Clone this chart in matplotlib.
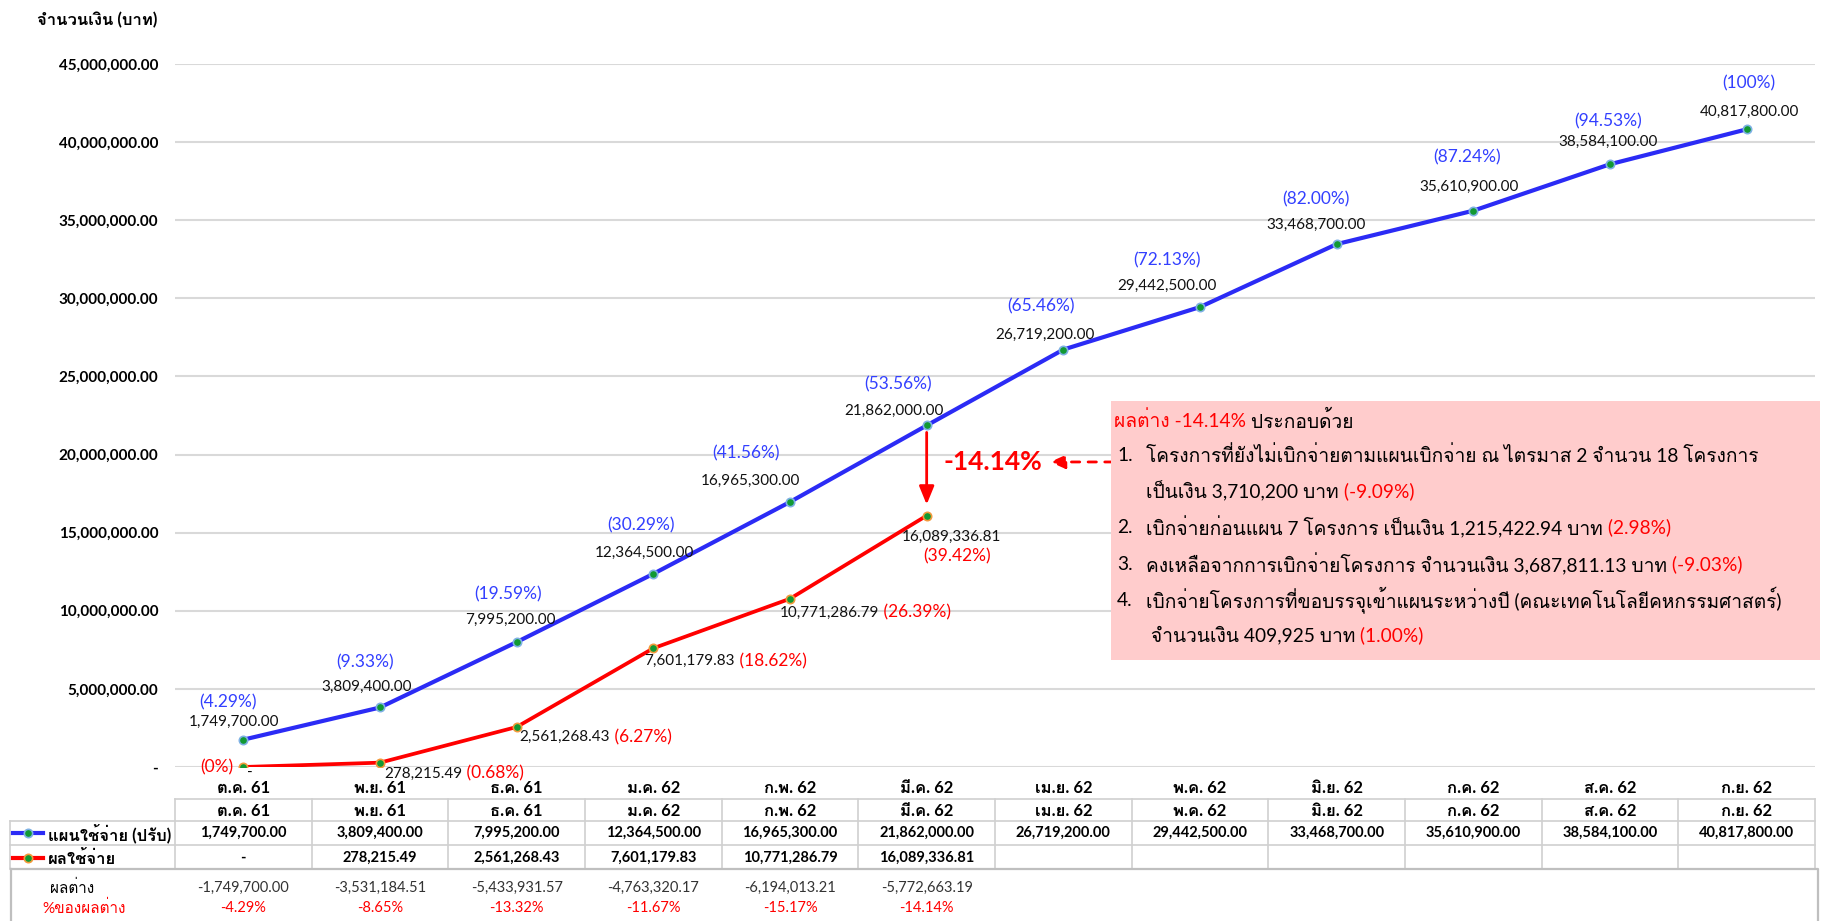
import numpy as np
import matplotlib
matplotlib.use('Agg')
import matplotlib.pyplot as plt
from matplotlib import font_manager
from matplotlib.ft2font import FT2Font
from matplotlib.patches import Rectangle
from matplotlib.text import Annotation


def thai_fonts():
    # families that actually carry Thai glyphs
    names = []
    for f in font_manager.fontManager.ttflist:
        try:
            cmap = FT2Font(f.fname).get_charmap()
        except Exception:
            continue
        if 0x0E08 in cmap and f.name not in names:
            names.append(f.name)
    return names


found = thai_fonts()
thai = 'DejaVu Sans'
for name in ['Loma', 'Waree', 'Garuda', 'IBM Plex Sans Thai Looped'] + found:
    if name in found:
        thai = name
        break
plt.rcParams['font.family'] = ['Lato', thai, 'DejaVu Sans']

# Data
months = ['ต.ค. 61', 'พ.ย. 61', 'ธ.ค. 61', 'ม.ค. 62', 'ก.พ. 62', 'มี.ค. 62',
          'เม.ย. 62', 'พ.ค. 62', 'มิ.ย. 62', 'ก.ค. 62', 'ส.ค. 62', 'ก.ย. 62']
plan = [1749700.00, 3809400.00, 7995200.00, 12364500.00, 16965300.00, 21862000.00,
        26719200.00, 29442500.00, 33468700.00, 35610900.00, 38584100.00, 40817800.00]
plan_pct = ['4.29%', '9.33%', '19.59%', '30.29%', '41.56%', '53.56%',
            '65.46%', '72.13%', '82.00%', '87.24%', '94.53%', '100%']
actual = [0, 278215.49, 2561268.43, 7601179.83, 10771286.79, 16089336.81]
actual_pct = ['0%', '0.68%', '6.27%', '18.62%', '26.39%', '39.42%']
diff = [-1749700.00, -3531184.51, -5433931.57, -4763320.17, -6194013.21, -5772663.19]
diff_pct = ['-4.29%', '-8.65%', '-13.32%', '-11.67%', '-15.17%', '-14.14%']
yticks = [0, 5e6, 10e6, 15e6, 20e6, 25e6, 30e6, 35e6, 40e6, 45e6]

# label offsets in pixels (dx, dy)
plan_val_off = [(-9, 18), (-13, 21), (-6, 22), (-9, 21), (-40, 21), (-33, 15),
                (-18, 15), (-33, 21), (-21, 19), (-4, 24), (-2, 22), (3, 17)]
plan_pct_off = [(-15, 37), (-15, 45), (-9, 48), (-12, 48), (-44, 49), (-29, 41),
                (-22, 43), (-33, 47), (-21, 45), (-6, 53), (-2, 43), (2, 46)]
act_val_off = [(7, -6), (4, -11), (3, -10), (-9, -13), (-10, -14), (25, -21)]

BLUE = '#2B2BF5'
BLUE_TXT = '#3340FF'
RED = '#FF0000'
GREEN = '#119933'
GRID = '#D9D9D9'

W, H = 1824, 921
fig = plt.figure(figsize=(W / 100, H / 100), dpi=100)
x0, x1, ytop, ybot = 175, 1815, 64, 767
ax = fig.add_axes([x0 / W, 1 - ybot / H, (x1 - x0) / W, (ybot - ytop) / H])

x = np.arange(len(months))
xa = np.arange(len(actual))

ax.plot(x, plan, color=BLUE, lw=3, marker='o', ms=6, mfc=GREEN, mec='#7FB2E5', mew=1.2,
        solid_capstyle='round', zorder=3)
ax.plot(xa, actual, color=RED, lw=2.7, marker='o', ms=6, mfc=GREEN, mec='#F39A3C', mew=1.2,
        solid_capstyle='round', zorder=3)

ax.set_xlim(-0.5, len(months) - 0.5)
ax.set_ylim(0, 45e6)
ax.set_yticks(yticks)
ax.set_yticklabels(['-' if v == 0 else f'{v:,.2f}' for v in yticks],
                   fontsize=11, fontweight='bold')
ax.set_xticks(x)
ax.set_xticklabels(months, fontsize=12, fontweight='bold')
ax.tick_params(axis='both', length=0)
ax.tick_params(axis='y', pad=12)
ax.tick_params(axis='x', pad=9)
ax.grid(axis='y', color=GRID, lw=1.5)
ax.set_axisbelow(True)
for s in ax.spines.values():
    s.set_visible(False)

fig.text(157 / W, 1 - 20 / H, 'จำนวนเงิน (บาท)', ha='right', va='center',
         fontsize=12, fontweight='bold')

# plan labels
for i, v in enumerate(plan):
    ax.annotate(f'{v:,.2f}', (i, v), xytext=plan_val_off[i], textcoords='offset pixels',
                ha='center', va='center', fontsize=11, color='#111111')
    ax.annotate(f'({plan_pct[i]})', (i, v), xytext=plan_pct_off[i], textcoords='offset pixels',
                ha='center', va='center', fontsize=12.5, color=BLUE_TXT)

# actual labels
for i, v in enumerate(actual):
    if v == 0:
        ax.annotate('-', (i, v), xytext=act_val_off[i], textcoords='offset pixels',
                    ha='center', va='center', fontsize=11)
        ax.annotate(f'({actual_pct[i]})', (i, v), xytext=(-10, 0), textcoords='offset pixels',
                    ha='right', va='center', fontsize=12.5, color=RED)
    elif i == len(actual) - 1:
        ax.annotate(f'{v:,.2f}', (i, v), xytext=act_val_off[i], textcoords='offset pixels',
                    ha='center', va='center', fontsize=11, color='#111111')
        ax.annotate(f'({actual_pct[i]})', (i, v), xytext=(30, -41), textcoords='offset pixels',
                    ha='center', va='center', fontsize=12.5, color=RED)
    else:
        t = ax.annotate(f'{v:,.2f}', (i, v), xytext=act_val_off[i], textcoords='offset pixels',
                        ha='left', va='center', fontsize=11, color='#111111')
        ax.annotate(f' ({actual_pct[i]})', (1, 0.5), xycoords=t, ha='left', va='center',
                    fontsize=12.5, color=RED)

# gap arrow at the last reported month
k = len(actual) - 1
ax.annotate('', xy=(k, actual[k]), xytext=(k, plan[k]),
            arrowprops=dict(arrowstyle='-|>,head_length=1.1,head_width=0.45', color=RED,
                            lw=2, shrinkA=5, shrinkB=8), zorder=4)
ax.text(0.4988, 0.4339, diff_pct[k], transform=ax.transAxes, ha='center', va='center',
        fontsize=19, fontweight='bold', color=RED)
ax.annotate('', xy=(0.5335, 0.4339), xytext=(0.572, 0.4339), xycoords='axes fraction',
            arrowprops=dict(arrowstyle='-|>,head_length=0.9,head_width=0.4', color=RED,
                            lw=2, ls=(0, (3, 3)), shrinkA=0, shrinkB=0))

# note box (drawn over the axes, text over the box)
fig.patches.append(Rectangle((1111 / W, 1 - 660 / H), 709 / W, 259 / H,
                             transform=fig.transFigure, facecolor='#FFCCCC',
                             edgecolor='none', zorder=1))


def follow(prev, s, **kw):
    a = Annotation(s, (1, 0.5), xycoords=prev, ha='left', va='center', zorder=5, **kw)
    fig.add_artist(a)
    return a


fs = 13.8
t = fig.text(1114 / W, 1 - 420 / H, 'ผลต่าง -14.14%', color=RED, fontsize=fs, va='center',
             zorder=5)
follow(t, ' ประกอบด้วย', fontsize=fs)
notes = [
    ('1.', 'โครงการที่ยังไม่เบิกจ่ายตามแผนเบิกจ่าย ณ ไตรมาส 2 จำนวน 18 โครงการ', '', 455),
    ('', 'เป็นเงิน 3,710,200 บาท', '(-9.09%)', 491),
    ('2.', 'เบิกจ่ายก่อนแผน 7 โครงการ เป็นเงิน 1,215,422.94 บาท', '(2.98%)', 527),
    ('3.', 'คงเหลือจากการเบิกจ่ายโครงการ จำนวนเงิน 3,687,811.13 บาท', '(-9.03%)', 564),
    ('4.', 'เบิกจ่ายโครงการที่ขอบรรจุเข้าแผนระหว่างปี (คณะเทคโนโลยีคหกรรมศาสตร์)', '', 600),
    ('', ' จำนวนเงิน 409,925 บาท', '(1.00%)', 635),
]
for num, body, red, yp in notes:
    if num:
        fig.text(1117 / W, 1 - yp / H, num, fontsize=fs, va='center', zorder=5)
    t = fig.text(1146 / W, 1 - yp / H, body, fontsize=fs, va='center', zorder=5)
    if red:
        follow(t, ' ' + red, fontsize=fs, color=RED)

# data table under the chart, y in pixels from the top
tax = fig.add_axes([x0 / W, 0, (x1 - x0) / W, 150 / H], sharex=ax)
tax.set_ylim(921, 771)
tax.axis('off')
step = (x1 - x0) / len(months)


def px_to_x(px):
    return -0.5 + (px - x0) / step


LINE = '#D0D0D0'
left = px_to_x(10)
right = len(months) - 0.5
tax.plot([-0.5, right], [799, 799], color=LINE, lw=1.2, clip_on=False)
for yy in (821, 845):
    tax.plot([left, right], [yy, yy], color=LINE, lw=1.2, clip_on=False)
for k2 in range(len(months) + 1):
    tax.plot([k2 - 0.5, k2 - 0.5], [799, 869], color=LINE, lw=1.2, clip_on=False)
tax.plot([left, left], [821, 869], color=LINE, lw=1.2, clip_on=False)
tax.plot([px_to_x(11), right + 0.02, right + 0.02], [869, 869, 921], color='#BFBFBF', lw=1.6,
         clip_on=False)
tax.plot([px_to_x(11), px_to_x(11)], [869, 921], color='#BFBFBF', lw=1.6, clip_on=False)

for i, m in enumerate(months):
    tax.text(i, 811, m, ha='center', va='center', fontsize=12, fontweight='bold')
    tax.text(i, 833, f'{plan[i]:,.2f}', ha='center', va='center', fontsize=10.5,
             fontweight='bold')
for i, v in enumerate(actual):
    tax.text(i, 858, '-' if v == 0 else f'{v:,.2f}', ha='center', va='center',
             fontsize=10.5, fontweight='bold')
for i, v in enumerate(diff):
    tax.text(i, 888, f'{v:,.2f}', ha='center', va='center', fontsize=10.5, color='#333333')
    tax.text(i, 908, diff_pct[i], ha='center', va='center', fontsize=10.5, color=RED)

# legend samples in the first column
tax.plot([px_to_x(13), px_to_x(43)], [833, 833], color=BLUE, lw=3, clip_on=False)
tax.plot([px_to_x(28)], [833], 'o', ms=6, mfc=GREEN, mec='#7FB2E5', mew=1.2, clip_on=False)
tax.plot([px_to_x(13), px_to_x(43)], [858, 858], color=RED, lw=3, clip_on=False)
tax.plot([px_to_x(28)], [858], 'o', ms=6, mfc=GREEN, mec='#F39A3C', mew=1.2, clip_on=False)
tax.text(px_to_x(48), 833, 'แผนใช้จ่าย (ปรับ)', ha='left', va='center', fontsize=12,
         fontweight='bold')
tax.text(px_to_x(48), 858, 'ผลใช้จ่าย', ha='left', va='center', fontsize=12,
         fontweight='bold')
tax.text(px_to_x(50), 888, 'ผลต่าง', ha='left', va='center', fontsize=11)
tax.text(px_to_x(42), 908, '%ของผลต่าง', ha='left', va='center', fontsize=11, color=RED)

fig.savefig('out.png', dpi=100)
